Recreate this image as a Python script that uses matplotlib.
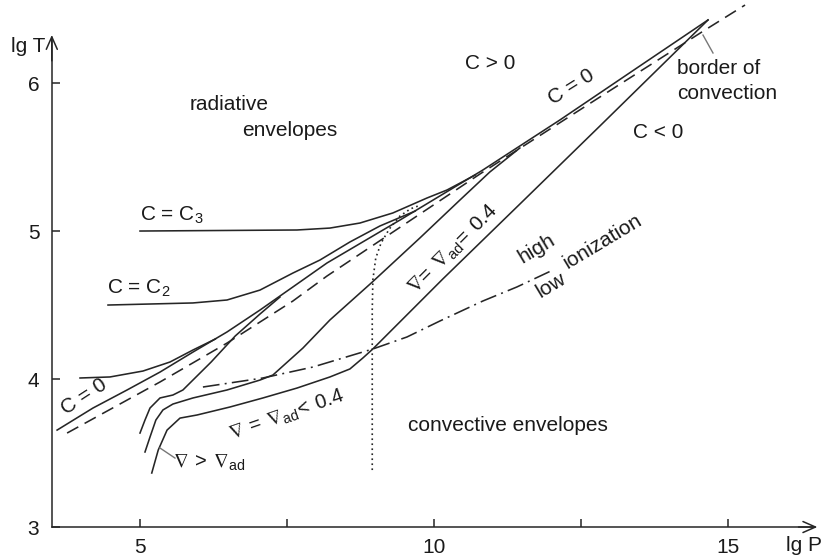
import matplotlib
matplotlib.use('Agg')
import matplotlib.pyplot as plt

plt.rcParams['font.family'] = ['Liberation Sans', 'DejaVu Sans']
plt.rcParams['mathtext.fontset'] = 'custom'
plt.rcParams['mathtext.rm'] = 'Liberation Sans'
plt.rcParams['mathtext.it'] = 'Liberation Sans:italic'
plt.rcParams['mathtext.default'] = 'regular'

# ---------------- data (lg P, lg T) ----------------
c0_p = [3.59, 4.20, 4.78, 5.34, 5.90, 6.48, 7.04, 7.60, 8.18, 9.42, 10.83, 12.14, 13.50, 14.66]
c0_t = [3.655, 3.804, 3.926, 4.047, 4.182, 4.318, 4.466, 4.622, 4.784, 5.074, 5.412, 5.750, 6.115, 6.426]

border_p = [3.76, 5.34, 6.48, 7.60, 8.18, 10.78, 12.82, 14.58, 15.29]
border_t = [3.635, 3.980, 4.243, 4.527, 4.696, 5.385, 5.905, 6.351, 6.527]

c1_p = [3.98, 4.49, 5.05, 5.51, 5.90, 6.28]
c1_t = [4.007, 4.014, 4.054, 4.115, 4.196, 4.270]

c2_p = [4.456, 5.90, 6.48, 7.04, 7.60, 8.06, 8.57, 9.08, 9.68]
c2_t = [4.500, 4.514, 4.534, 4.601, 4.716, 4.804, 4.926, 5.034, 5.135]

c3_p = [5.00, 7.67, 8.23, 8.74, 9.30, 9.88, 10.22, 10.70]
c3_t = [5.000, 5.007, 5.020, 5.054, 5.122, 5.223, 5.277, 5.378]

conv1_p = [5.00, 5.085, 5.17, 5.34, 5.56, 5.73, 6.21, 6.62, 7.04, 7.38]
conv1_t = [3.635, 3.723, 3.804, 3.872, 3.892, 3.926, 4.115, 4.291, 4.439, 4.554]

conv2_p = [5.085, 5.17, 5.27, 5.39, 5.56, 5.90, 6.48, 7.04, 7.26, 7.77, 8.23, 8.95, 9.76, 10.44, 10.95, 11.46]
conv2_t = [3.507, 3.608, 3.723, 3.791, 3.831, 3.872, 3.926, 3.993, 4.027, 4.209, 4.399, 4.655, 4.953, 5.209, 5.399, 5.561]

conv3_p = [5.20, 5.31, 5.46, 5.68, 5.97, 6.53, 7.09, 7.67, 8.23, 8.57, 8.79, 8.96, 10.15, 11.46, 12.82, 14.07, 14.66]
conv3_t = [3.365, 3.520, 3.655, 3.736, 3.757, 3.811, 3.872, 3.939, 4.014, 4.068, 4.142, 4.203, 4.676, 5.182, 5.709, 6.196, 6.426]

dotted_p = [8.95, 8.95, 8.96, 9.01, 9.10, 9.24, 9.42, 9.60, 9.73]
dotted_t = [3.385, 4.466, 4.669, 4.818, 4.919, 5.014, 5.101, 5.150, 5.169]

ioniz_p = [6.07, 7.09, 7.94, 8.96, 9.54, 10.10, 10.83, 11.41, 12.02]
ioniz_t = [3.946, 4.007, 4.081, 4.203, 4.284, 4.392, 4.527, 4.622, 4.736]

xticks = [5, 7.5, 10, 12.5, 15]
xticklabels = ['5', '', '10', '', '15']
yticks = [3, 4, 5, 6]
yticklabels = ['3', '4', '5', '6']

# ---------------- figure ----------------
LC = '#262626'
LW = 1.15
TC = '#1a1a1a'
FS = 15

fig = plt.figure(figsize=(8.26, 5.59), dpi=100)
ax = fig.add_axes([0, 0, 1, 1])
ax.set_xlim(2.619, 16.667)
ax.set_ylim(2.784, 6.561)

for p, t in [(c0_p, c0_t), (c1_p, c1_t), (c2_p, c2_t), (c3_p, c3_t),
             (conv1_p, conv1_t), (conv2_p, conv2_t), (conv3_p, conv3_t)]:
    ax.plot(p, t, color=LC, lw=LW, solid_joinstyle='round')

ax.plot(border_p, border_t, color=LC, lw=LW, linestyle=(0, (8, 4.5)))
ax.plot(dotted_p, dotted_t, color=LC, lw=1.2, linestyle=(0, (1, 2)))
ax.plot(ioniz_p, ioniz_t, color=LC, lw=LW, linestyle=(0, (10.5, 3.3, 1.2, 3.3)))

# leader lines
ax.plot([14.745, 14.575], [6.203, 6.324], color='#777777', lw=1.0)
ax.plot([5.34, 5.595], [3.534, 3.466], color='#777777', lw=1.0)

# axes
for s in ['top', 'right']:
    ax.spines[s].set_visible(False)
ax.spines['left'].set_position(('data', 3.5))
ax.spines['left'].set_bounds(3, 6.30)
ax.spines['bottom'].set_position(('data', 3))
ax.spines['bottom'].set_bounds(3.5, 16.45)
for s in ['left', 'bottom']:
    ax.spines[s].set_color(LC)
    ax.spines[s].set_linewidth(1.1)
ax.annotate('', xy=(16.52, 3), xytext=(16.2, 3),
            arrowprops=dict(arrowstyle='->,head_length=0.5,head_width=0.22', color=LC, lw=1.1,
                            shrinkA=0, shrinkB=0, mutation_scale=18))
ax.annotate('', xy=(3.5, 6.325), xytext=(3.5, 6.15),
            arrowprops=dict(arrowstyle='->,head_length=0.5,head_width=0.22', color=LC, lw=1.1,
                            shrinkA=0, shrinkB=0, mutation_scale=18))

ax.set_xticks(xticks)
ax.set_xticklabels(xticklabels)
ax.set_yticks(yticks)
ax.set_yticklabels(yticklabels)
ax.tick_params(direction='in', length=5.5, width=1.1, color=LC, labelsize=FS, labelcolor=TC)
ax.tick_params(axis='x', pad=8)
ax.tick_params(axis='y', pad=9)

def lab(x, y, s, rot=0, ha='center', va='center', fs=FS, mff=None):
    kw = {}
    if mff:
        kw['math_fontfamily'] = mff
    ax.text(x, y, s, rotation=rot, ha=ha, va=va, fontsize=fs, color=TC,
            rotation_mode='anchor', **kw)

lab(3.095, 6.25, 'lg T')
lab(16.293, 2.872, 'lg P')
lab(6.514, 5.858, 'radiative')
lab(7.551, 5.682, 'envelopes')
lab(5.0, 5.108, 'C = C$_3$', ha='left')
lab(4.439, 4.615, 'C = C$_2$', ha='left')
lab(4.048, 3.878, 'C = 0', rot=33)
lab(10.952, 6.135, 'C > 0')
lab(12.33, 5.973, 'C = 0', rot=32)
lab(14.133, 6.101, 'border of', ha='left')
lab(14.133, 5.932, 'convection', ha='left')
lab(13.81, 5.669, 'C < 0')
lab(10.323, 4.872, r'$\nabla\!=\,\nabla_{ad}\!=\,0.4$', rot=45, fs=15, mff='dejavusans')
lab(11.752, 4.878, 'high', rot=31)
lab(11.99, 4.635, 'low', rot=31)
lab(12.874, 4.926, 'ionization', rot=31)
lab(7.5, 3.757, r'$\nabla\,=\,\nabla_{ad}\!<\,0.4$', rot=19, fs=14.5, mff='dejavusans')
lab(6.173, 3.432, r'$\nabla\,>\,\nabla_{ad}$', fs=14.5, mff='dejavusans')
lab(11.259, 3.689, 'convective envelopes')

fig.savefig('out.png', dpi=100)
